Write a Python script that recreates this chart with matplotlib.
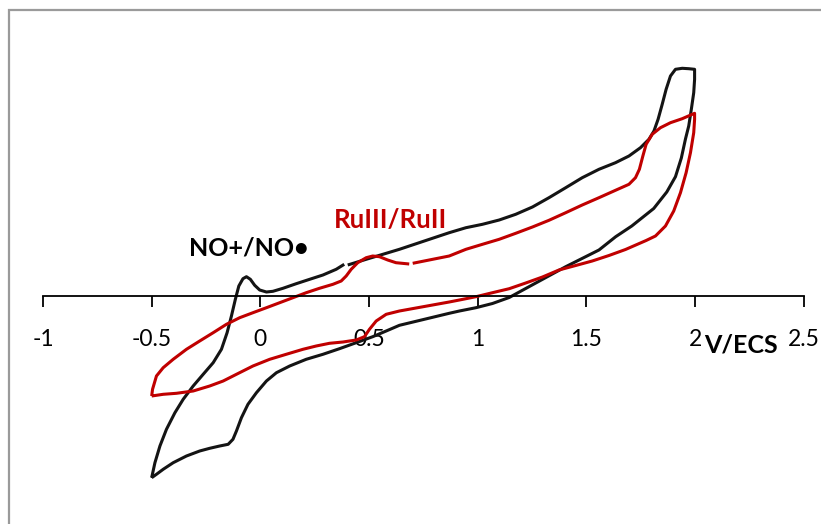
import numpy as np
import matplotlib
matplotlib.use("Agg")
import matplotlib.pyplot as plt
from matplotlib.patches import Rectangle

plt.rcParams['font.family'] = ['Lato', 'DejaVu Sans']

# cyclic voltammograms, potential in V/ECS, current in arbitrary units
# NO complex (black): sweep from -0.5 V up to 2 V and back; nan = missing sample
no_potential = [
    -0.5, -0.485, -0.462, -0.432, -0.393, -0.355, -0.309, -0.263, -0.217, -0.179,
    -0.153, -0.133, -0.115, -0.099, -0.080, -0.064, -0.046, -0.026, -0.003, 0.028,
    0.058, 0.104, 0.165, 0.227, 0.288, 0.349, 0.386, np.nan, 0.402, 0.487,
    0.579, 0.640, 0.869, 0.946, 1.022, 1.099, 1.175, 1.252, 1.328, 1.405,
    1.481, 1.558, 1.634, 1.696, 1.749, 1.788, 1.811, 1.830, 1.849, 1.867,
    1.887, 1.910, 1.941, 1.971, 1.998,
    1.998, 1.994, 1.983, 1.971, 1.956, 1.937, 1.910, 1.870, 1.810, 1.709,
    1.635, 1.558, 1.405, 1.145, 1.068,
    0.992, 0.916, 0.869, 0.640, 0.579, 0.517, 0.441, 0.364, 0.288, 0.211,
    0.135, 0.074, 0.028, -0.018, -0.057, -0.087, -0.110, -0.126, -0.148, -0.187,
    -0.233, -0.279, -0.340, -0.401, -0.447, -0.478, -0.5]
no_current = [
    -181.7, -166.7, -150.0, -133.3, -116.7, -103.3, -90.0, -78.3, -66.7, -53.3,
    -36.7, -20.0, -3.3, 10.0, 17.3, 19.3, 16.7, 10.7, 6.0, 4.0,
    4.7, 7.7, 12.3, 16.7, 21.0, 26.7, 31.7, np.nan, 31.0, 36.7,
    42.7, 46.7, 63.3, 68.3, 71.7, 76.0, 81.7, 89.0, 98.3, 108.3,
    118.3, 126.7, 133.3, 140.0, 148.3, 156.7, 165.0, 176.7, 191.7, 206.7,
    220.0, 226.7, 227.7, 227.3, 226.7,
    216.7, 203.3, 186.7, 170.0, 157.0, 138.0, 119.3, 104.0, 87.5, 70.0,
    59.3, 46.0, 29.3, -1.5, -7.5,
    -11.7, -15.0, -17.3, -29.3, -35.0, -40.7, -46.7, -52.7, -58.3, -63.3,
    -70.0, -76.7, -85.0, -96.7, -108.3, -121.7, -135.0, -143.3, -148.3, -150.0,
    -152.3, -155.0, -160.0, -166.7, -173.3, -178.3, -181.7]

# Ru complex (red)
ru_potential = [
    -0.5, -0.496, -0.478, -0.447, -0.401, -0.340, -0.279, -0.217, -0.156, -0.095,
    -0.034, 0.028, 0.089, 0.150, 0.211, 0.272, 0.334, 0.372, 0.395, 0.418,
    0.448, 0.487, 0.517, 0.548, 0.586, 0.624, 0.685, np.nan, 0.701, 0.869,
    0.946, 1.022, 1.099, 1.175, 1.252, 1.328, 1.405, 1.481, 1.558, 1.634,
    1.696, 1.726, 1.744, 1.760, 1.775, 1.803, 1.841, 1.887, 1.941, 1.998,
    1.998, 1.994, 1.979, 1.959, 1.933, 1.902, 1.864, 1.818, 1.775, 1.680,
    1.604, 1.527, 1.451, 1.374, 1.298, 1.221, 1.145, 1.068, 0.992, 0.916,
    0.869, 0.640, 0.579, 0.533, 0.502, 0.479, 0.441, 0.380, 0.318, 0.257,
    0.196, 0.119, 0.043, -0.034, -0.110, -0.171, -0.233, -0.309, -0.386, -0.447,
    -0.5]
ru_current = [
    -100.0, -93.3, -80.0, -71.7, -63.3, -53.3, -45.0, -36.7, -28.3, -21.7,
    -16.7, -11.7, -6.7, -1.7, 3.3, 7.7, 11.7, 15.0, 20.0, 26.7,
    33.3, 38.3, 40.0, 39.3, 36.0, 33.3, 32.0, np.nan, 32.7, 40.0,
    46.7, 51.7, 56.7, 62.7, 69.0, 75.7, 83.3, 91.0, 98.3, 105.7,
    111.7, 118.3, 126.7, 140.0, 151.7, 161.7, 168.3, 173.3, 177.3, 182.7,
    176.7, 163.3, 143.3, 123.3, 103.3, 85.0, 70.0, 60.0, 55.5, 46.5,
    40.5, 35.0, 30.5, 26.0, 19.0, 13.0, 7.3, 3.3, -0.7, -4.0,
    -6.0, -15.0, -18.3, -25.0, -33.3, -40.7, -44.0, -46.0, -47.3, -50.0,
    -53.3, -58.3, -63.3, -70.0, -78.3, -85.0, -90.0, -95.0, -97.3, -98.3,
    -100.0]

x_ticks = [-1, -0.5, 0, 0.5, 1, 1.5, 2, 2.5]
x_tick_labels = ['-1', '-0.5', '0', '0.5', '1', '1.5', '2', '2.5']

BLACK = '#141414'
RED = '#C00000'

fig = plt.figure(figsize=(8.21, 5.24), dpi=100)
ax = fig.add_axes([43 / 821, 0.0, 760.7 / 821, 1.0])
ax.set_facecolor('none')

ax.plot(no_potential, no_current, color=BLACK, lw=2.2, solid_joinstyle='round',
        solid_capstyle='butt')
ax.plot(ru_potential, ru_current, color=RED, lw=2.2, solid_joinstyle='round',
        solid_capstyle='butt')

ax.set_xlim(-1, 2.5)
ax.set_ylim(-228, 296)

# x axis crosses at zero current, no visible y axis
ax.spines['bottom'].set_position(('data', 0))
ax.spines['bottom'].set_linewidth(1.3)
for side in ['left', 'top', 'right']:
    ax.spines[side].set_visible(False)
ax.set_yticks([])
ax.set_xticks(x_ticks)
ax.set_xticklabels(x_tick_labels)
ax.tick_params(axis='x', direction='out', length=8, width=1.3, pad=16,
               labelsize=16.5, colors='black')

ax.text(2.21, -49, 'V/ECS', fontsize=18, fontweight='bold', ha='center', va='center')
ax.text(-0.054, 48, 'NO+/NO\u2022', fontsize=18, fontweight='bold', ha='center',
        va='center', color='black')
ax.text(0.60, 76, 'RuIII/RuII', fontsize=18.5, fontweight='bold', ha='center',
        va='center', color=RED)

# chart area border
fig.patches.append(Rectangle((8.5 / 821, -0.1), 1.2, 1.1 - 10.5 / 524,
                             transform=fig.transFigure, fill=False,
                             edgecolor='#9a9a9a', lw=1.6))

fig.savefig('out.png', dpi=100)
